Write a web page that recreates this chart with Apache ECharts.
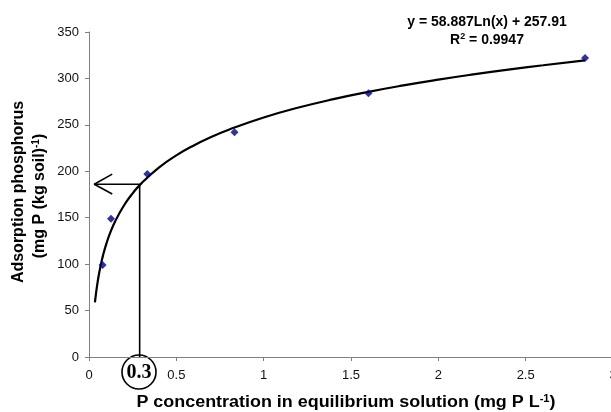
<!DOCTYPE html>
<html><head><meta charset="utf-8">
<script src="https://cdn.jsdelivr.net/npm/echarts@6/dist/echarts.min.js"></script>
<style>html,body{margin:0;padding:0;background:#fff}#c{width:611px;height:412px}</style>
</head><body><div id="c"></div>
<script>
// Observed data (P concentration, adsorbed P)
var xValues = [0.078, 0.126, 0.334, 0.833, 1.6, 2.84];
var yValues = [99, 149, 197, 242, 284, 322];
// Logarithmic trendline shown on the chart: y = 58.887 Ln(x) + 257.91
var trendA = 58.887, trendB = 257.91;
var trendX = [0.034,0.04,0.05,0.06,0.07,0.08,0.1,0.12,0.15,0.2,0.25,0.3,0.4,0.5,0.6,0.7,0.8,1.0,1.2,1.4,1.6,1.8,2.0,2.2,2.4,2.6,2.84];
// Annotation (reading at 0.3)
var guideX = 0.29, guideY = 186, arrowTipX = 0.03;
var arrowHead = [[0.133,197],[0.03,186],[0.133,175.5]];
var xTicks = [0,0.5,1,1.5,2,2.5,3];
var yTicks = [0,50,100,150,200,250,300,350];

var pts = xValues.map(function(x,i){return [x,yValues[i]];});
var trend = trendX.map(function(x){return [x, trendA*Math.log(x)+trendB];});
var F = '"Liberation Sans", Arial, sans-serif';
var chart = echarts.init(document.getElementById('c'));
chart.setOption({
  animation:false,
  grid:{left:89,width:524,top:32,height:325,containLabel:false,outerBoundsMode:'none'},
  xAxis:{type:'value',min:0,max:3,interval:0.5,
    axisLine:{lineStyle:{color:'#808080',width:1}},
    axisTick:{show:true,length:4,lineStyle:{color:'#808080'}},
    splitLine:{show:false},
    axisLabel:{color:'#111',fontFamily:F,fontSize:13,margin:12,formatter:function(v){return String(v);}}},
  yAxis:{type:'value',min:0,max:350,interval:50,
    axisLine:{show:true,lineStyle:{color:'#808080',width:1}},
    axisTick:{show:true,length:4,lineStyle:{color:'#808080'}},
    splitLine:{show:false},
    axisLabel:{color:'#111',fontFamily:F,fontSize:13,margin:10}},
  series:[
    {type:'line',data:trend,smooth:true,symbol:'none',lineStyle:{color:'#000',width:2.2},z:3},
    {type:'line',data:[[guideX,0],[guideX,guideY],[arrowTipX,guideY]],symbol:'none',lineStyle:{color:'#000',width:1.6},z:4},
    {type:'line',data:arrowHead,symbol:'none',lineStyle:{color:'#000',width:1.6},z:4},
    {type:'scatter',data:pts,symbol:'diamond',symbolSize:8,itemStyle:{color:'#000080'},z:5}
  ],
  graphic:[
    {type:'text',x:487,y:22,style:{text:'y = 58.887Ln(x) + 257.91',font:'bold 14px '+F,fill:'#000',align:'center',verticalAlign:'middle'}},
    {type:'text',x:487,y:40,style:{text:'R{s|2} = 0.9947',rich:{s:{font:'bold 9px '+F,fill:'#000',verticalAlign:'top',padding:[0,0,7,0]}},font:'bold 14px '+F,fill:'#000',align:'center',verticalAlign:'middle'}},
    {type:'ellipse',shape:{cx:139,cy:372,rx:17,ry:17},style:{fill:'none',stroke:'#000',lineWidth:1.6}},
    {type:'text',x:139,y:373,style:{text:'0.3',font:'bold 20px "Liberation Serif", "Times New Roman", serif',fill:'#000',align:'center',verticalAlign:'middle'}},
    {type:'text',x:346,y:403,scaleX:1.12,style:{text:'P concentration in equilibrium solution (mg P L{s|-1})',rich:{s:{font:'bold 10px '+F,fill:'#000',verticalAlign:'top',padding:[0,0,8,0]}},font:'bold 16px '+F,fill:'#000',align:'center',verticalAlign:'middle'}},
    {type:'text',x:19,y:192,rotation:Math.PI/2,style:{text:'Adsorption phosphorus',font:'bold 16px '+F,fill:'#000',align:'center',verticalAlign:'middle'}},
    {type:'text',x:40,y:196,rotation:Math.PI/2,style:{text:'(mg P (kg soil){s|-1})',rich:{s:{font:'bold 10px '+F,fill:'#000',verticalAlign:'top',padding:[0,0,8,0]}},font:'bold 16px '+F,fill:'#000',align:'center',verticalAlign:'middle'}}
  ]
});
</script></body></html>
